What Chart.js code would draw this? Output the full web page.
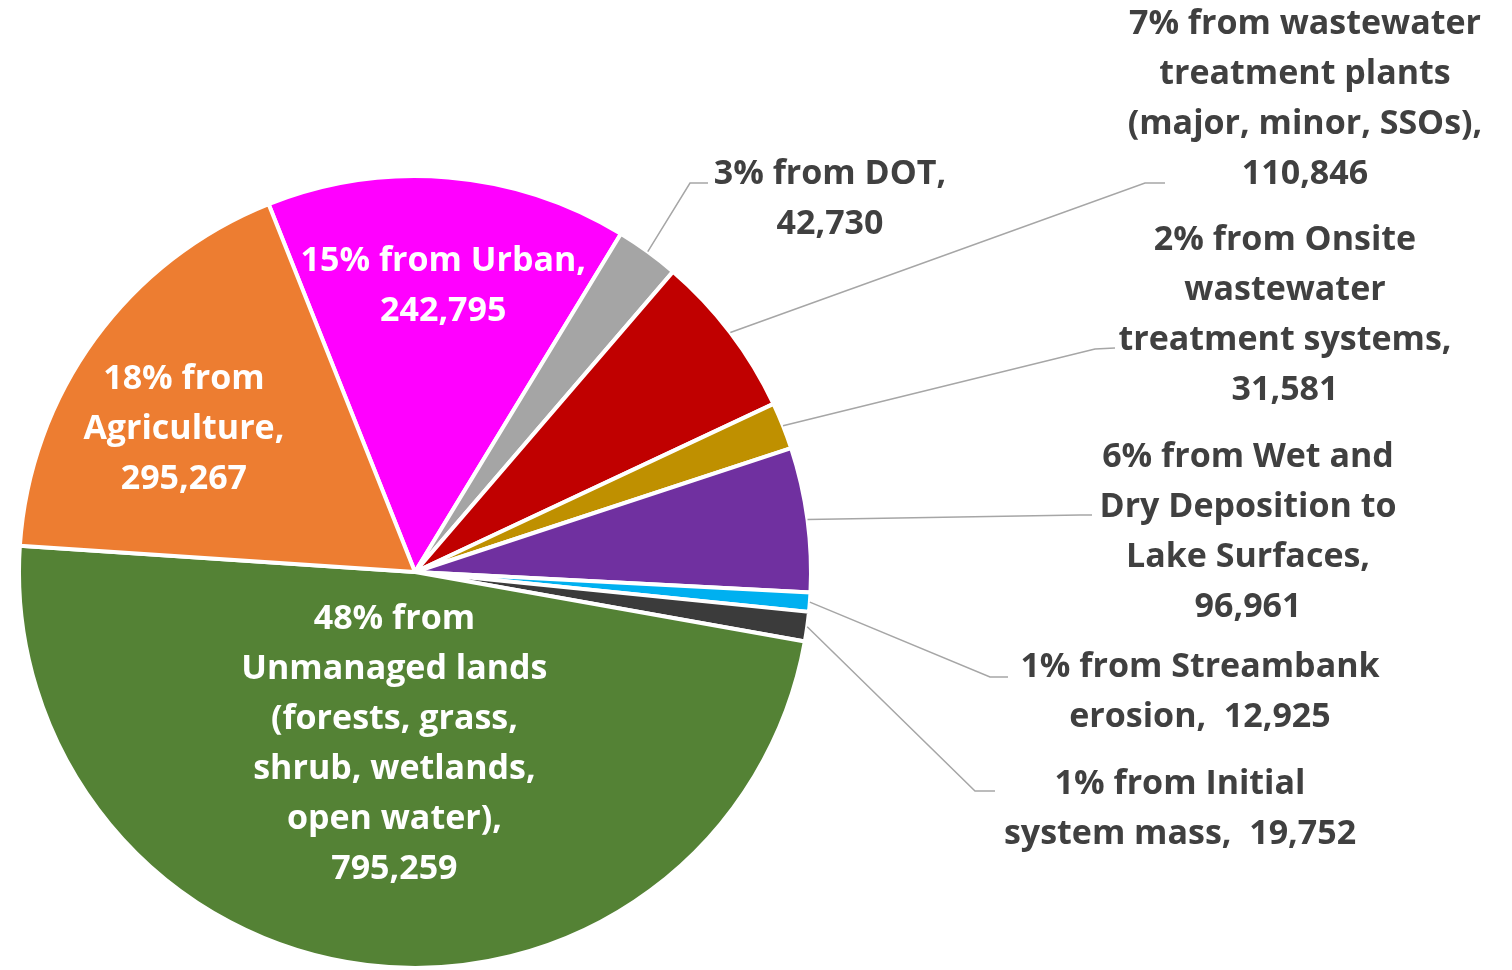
<!DOCTYPE html>
<html>
<head>
<meta charset="utf-8">
<title>Phosphorus load by source</title>
<script src="https://cdn.jsdelivr.net/npm/chart.js@4.4.0/dist/chart.umd.min.js"></script>
<style>
  html, body { margin: 0; padding: 0; background: #fff; }
  #wrap { width: 1512px; height: 970px; }
</style>
</head>
<body>
<div id="wrap"><canvas id="pie" width="1512" height="970"></canvas></div>
<script>
// data, clockwise from the top
const sources = ['Urban', 'DOT', 'Wastewater treatment plants', 'Onsite wastewater treatment systems',
  'Wet and Dry Deposition to Lake Surfaces', 'Streambank erosion', 'Initial system mass',
  'Unmanaged lands', 'Agriculture'];
const loads = [242795, 42730, 110846, 31581, 96961, 12925, 19752, 795259, 295267];
const sliceColors = ['#FF00FF', '#A5A5A5', '#C00000', '#BF9000', '#7030A0', '#00B0F0', '#3B3B3B', '#548235', '#ED7D31'];

// label text, {p} = percent, {v} = value
const labelLines = [
  ['{p} from Urban,', '{v}'],
  ['{p} from DOT,', '{v}'],
  ['{p} from wastewater', 'treatment plants', '(major, minor, SSOs),', '{v}'],
  ['{p} from Onsite', 'wastewater', 'treatment systems,', '{v}'],
  ['{p} from Wet and', 'Dry Deposition to', 'Lake Surfaces,', '{v}'],
  ['{p} from Streambank', 'erosion,  {v}'],
  ['{p} from Initial', 'system mass,  {v}'],
  ['{p} from', 'Unmanaged lands', '(forests, grass,', 'shrub, wetlands,', 'open water),', '{v}'],
  ['{p} from', 'Agriculture,', '{v}']
];

const FONT = 'bold 34px "Open Sans"';
const LINE_H = 50;

// where each label goes (inside: fraction of radius + nudge; outside: text pos + leader elbow/end)
const labelPlaces = [
  { inside: true, r: 0.73, dx: 4, dy: 2 },
  { x: 830, y: 174, elbow: [690, 183], end: [708, 183] },
  { x: 1305, y: 24, elbow: [1145, 183], end: [1165, 183] },
  { x: 1285, y: 240, elbow: [1095, 349], end: [1115, 348] },
  { x: 1248, y: 457, elbow: [1080, 515], end: [1092, 515] },
  { x: 1200, y: 667, elbow: [990, 677], end: [1008, 677] },
  { x: 1180, y: 784, elbow: [975, 791], end: [995, 791] },
  { inside: true, r: 0.43, dx: 0, dy: 3 },
  { inside: true, r: 0.70, dx: -7, dy: 20 }
];

const total = loads.reduce((a, b) => a + b, 0);
const pct = v => Math.round(v / total * 100) + '%';
const fmt = v => v.toLocaleString('en-US');

const sliceLabels = {
  id: 'sliceLabels',
  afterDatasetsDraw(chart) {
    const ctx = chart.ctx;
    const meta = chart.getDatasetMeta(0);
    ctx.save();
    ctx.font = FONT;
    ctx.textAlign = 'center';
    ctx.textBaseline = 'middle';
    meta.data.forEach((arc, i) => {
      const lines = labelLines[i].map(s => s.replace('{p}', pct(loads[i])).replace('{v}', fmt(loads[i])));
      const place = labelPlaces[i];
      const mid = (arc.startAngle + arc.endAngle) / 2;
      if (place.inside) {
        const r = arc.outerRadius * place.r;
        const cx = arc.x + Math.cos(mid) * r + place.dx;
        const cy = arc.y + Math.sin(mid) * r + place.dy;
        ctx.fillStyle = '#FFFFFF';
        lines.forEach((t, k) => ctx.fillText(t, cx, cy + (k - (lines.length - 1) / 2) * LINE_H));
      } else {
        const sx = arc.x + Math.cos(mid) * arc.outerRadius;
        const sy = arc.y + Math.sin(mid) * arc.outerRadius;
        ctx.strokeStyle = '#A6A6A6';
        ctx.lineWidth = 1.5;
        ctx.beginPath();
        ctx.moveTo(sx, sy);
        ctx.lineTo(place.elbow[0], place.elbow[1]);
        ctx.lineTo(place.end[0], place.end[1]);
        ctx.stroke();
        ctx.fillStyle = '#404040';
        lines.forEach((t, k) => ctx.fillText(t, place.x, place.y + k * LINE_H));
      }
    });
    ctx.restore();
  }
};

new Chart(document.getElementById('pie'), {
  type: 'pie',
  data: {
    labels: sources,
    datasets: [{
      data: loads,
      backgroundColor: sliceColors,
      borderColor: '#FFFFFF',
      borderWidth: 4
    }]
  },
  options: {
    responsive: false,
    animation: false,
    rotation: -21.7,
    layout: { padding: { left: 16, top: 174, right: 698, bottom: 0 } },
    plugins: {
      legend: { display: false },
      tooltip: { enabled: false }
    }
  },
  plugins: [sliceLabels]
});
</script>
</body>
</html>
